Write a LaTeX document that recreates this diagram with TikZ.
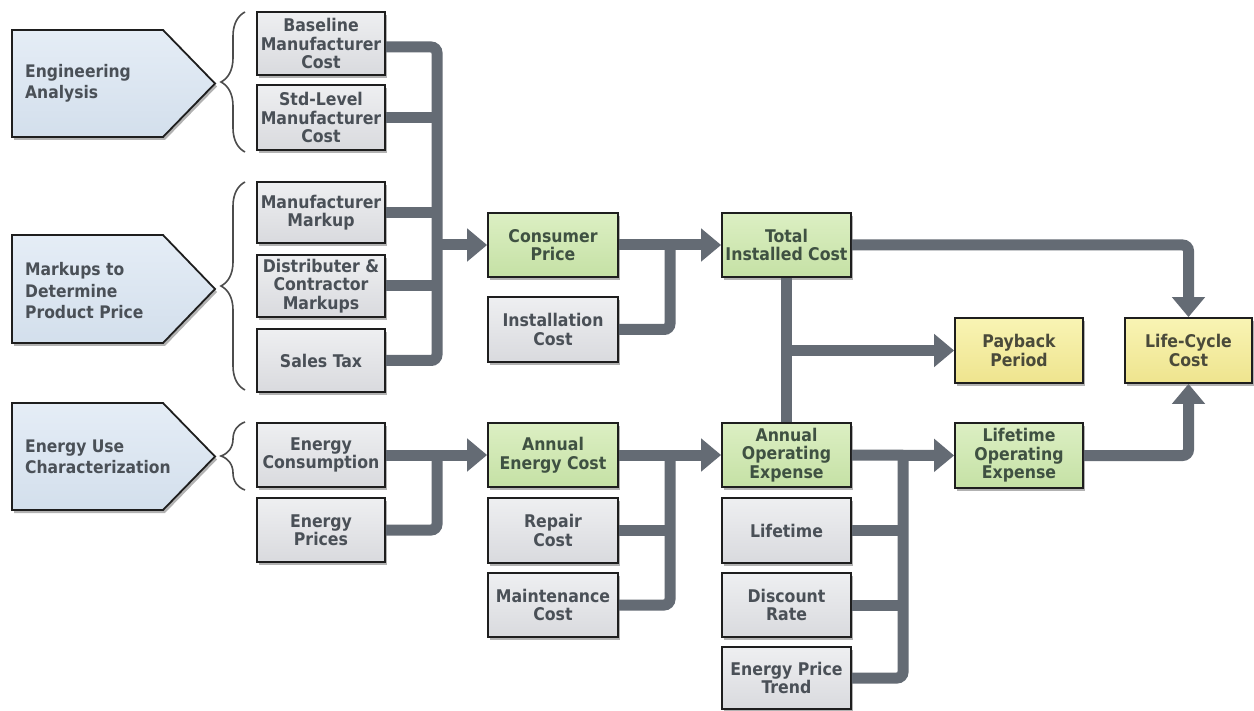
\documentclass[tikz,border=0pt]{standalone}
\usepackage{fontspec}
\setmainfont{DejaVu Sans Condensed}
\usetikzlibrary{arrows.meta,shadows,decorations.pathreplacing}
\definecolor{conncol}{HTML}{646B74}
\definecolor{greytop}{HTML}{EEEFF1}
\definecolor{greybot}{HTML}{D9DADE}
\definecolor{greentop}{HTML}{DCEFC3}
\definecolor{greenbot}{HTML}{C5E1A5}
\definecolor{yellowtop}{HTML}{F9F4B4}
\definecolor{yellowbot}{HTML}{EEE48E}
\definecolor{bluetop}{HTML}{E5EDF6}
\definecolor{bluebot}{HTML}{D3DFEC}
\definecolor{txtgrey}{HTML}{4A5057}
\definecolor{txtgreen}{HTML}{3F5142}
\definecolor{txtyellow}{HTML}{4A4A3A}
\definecolor{bordercol}{HTML}{1E1E1E}
\tikzset{
  box/.style={draw=bordercol, line width=1.8pt, minimum height=64pt, inner sep=0pt,
    align=center, font=\bfseries\fontsize{17.5}{18.5}\selectfont,
    drop shadow={shadow xshift=2pt, shadow yshift=-3pt, opacity=0.3, fill=black}},
  gbox/.style={box, top color=greytop, bottom color=greybot, text=txtgrey},
  grbox/.style={box, top color=greentop, bottom color=greenbot, text=txtgreen},
  ybox/.style={box, top color=yellowtop, bottom color=yellowbot, text=txtyellow},
  penta/.style={draw=bordercol, line width=1.8pt, top color=bluetop, bottom color=bluebot,
    drop shadow={shadow xshift=2pt, shadow yshift=-3pt, opacity=0.3, fill=black}},
  ptext/.style={anchor=west, align=left, text=txtgrey, inner sep=0pt,
    font=\bfseries\fontsize{17.3}{21.5}\selectfont},
  conn/.style={draw=conncol, line width=11pt, rounded corners=6pt},
  arr/.style={conn, -{Triangle[length=20pt,width=32pt]}},
  bracestyle/.style={draw=black!70, line width=1.6pt, decorate,
    decoration={brace, amplitude=24pt, aspect=0.5}}
}
\begin{document}
\begin{tikzpicture}[x=1pt,y=-1pt]
\useasboundingbox (0,0) rectangle (1254,711);
\fill[white] (0,0) rectangle (1254,711);

% pentagons
\draw[penta] (12,30) -- (163,30) -- (215,83.5) -- (163,137) -- (12,137) -- cycle;
\node[ptext] (ea) at (25,83.5) {Engineering\\Analysis};
\draw[penta] (12,235) -- (163,235) -- (215,289) -- (163,343) -- (12,343) -- cycle;
\node[ptext] (mk) at (25,291) {Markups to\\Determine\\Product Price};
\draw[penta] (12,403) -- (163,403) -- (215,456.5) -- (163,510) -- (12,510) -- cycle;
\node[ptext] (eu) at (25,457) {Energy Use\\Characterization};

% braces
\draw[bracestyle] (245,152) -- (245,12);
\draw[bracestyle] (245,390) -- (245,182);
\draw[bracestyle] (245,490) -- (245,422);

% column 1
\node[gbox, minimum width=128pt, minimum height=63pt] (b1) at (321,43.5) {Baseline\\Manufacturer\\Cost};
\node[gbox, minimum width=128pt, minimum height=65pt] (b2) at (321,117.5) {Std-Level\\Manufacturer\\Cost};
\node[gbox, minimum width=128pt, minimum height=61pt] (b3) at (321,212.5) {Manufacturer\\Markup};
\node[gbox, minimum width=128pt, minimum height=62pt] (b4) at (321,286) {Distributer \&\\Contractor\\Markups};
\node[gbox, minimum width=128pt, minimum height=63pt] (b5) at (321,360.5) {Sales Tax};
\node[gbox, minimum width=128pt] (b6) at (321,455) {Energy\\Consumption};
\node[gbox, minimum width=128pt] (b7) at (321,530) {Energy\\Prices};

% column 2
\node[grbox, minimum width=130pt] (cp) at (553,245) {Consumer\\Price};
\node[gbox, minimum width=130pt, minimum height=65pt] (ic) at (553,329.5) {Installation\\Cost};
\node[grbox, minimum width=130pt] (aec) at (553,455) {Annual\\Energy Cost};
\node[gbox, minimum width=130pt, minimum height=65pt] (rc) at (553,530.5) {Repair\\Cost};
\node[gbox, minimum width=130pt] (mc) at (553,605) {Maintenance\\Cost};

% column 3
\node[grbox, minimum width=129pt] (tic) at (786.5,245) {Total\\Installed Cost};
\node[grbox, minimum width=129pt] (aoe) at (786.5,455) {Annual\\Operating\\Expense};
\node[gbox, minimum width=129pt, minimum height=65pt] (lt) at (786.5,530.5) {Lifetime};
\node[gbox, minimum width=129pt] (dr) at (786.5,605) {Discount\\Rate};
\node[gbox, minimum width=129pt, minimum height=62pt] (ept) at (786.5,678) {Energy Price\\Trend};

% column 4, 5
\node[ybox, minimum width=128pt, minimum height=65pt] (pb) at (1019,350.5) {Payback\\Period};
\node[grbox, minimum width=128pt, minimum height=65pt] (loe) at (1019,455.5) {Lifetime\\Operating\\Expense};
\node[ybox, minimum width=127pt, minimum height=65pt] (lcc) at (1188.5,350.5) {Life-Cycle\\Cost};

% trunk coordinates
\coordinate (t1top) at (437,47);
\coordinate (t1bot) at (437,360.5);
\coordinate (t2bot) at (670,329.5);
\coordinate (t3top) at (437,455);
\coordinate (t4bot) at (670,605);
\coordinate (t5bot) at (903,678);

% group 1
\draw[conn] (b1.east |- t1top) -- (t1top) -- (t1bot) -- (b5.east);
\draw[conn] (b2.east) -- (b2.east -| t1top);
\draw[conn] (b3.east) -- (b3.east -| t1top);
\draw[conn] (b4.east) -- (b4.east -| t1top);
\draw[arr] (cp.west -| t1top) -- (cp.west);

% installed cost
\draw[conn] (ic.east) -- (t2bot) -- (t2bot |- cp.east);
\draw[arr] (cp.east) -- (tic.west);
\draw[arr] (tic.east) -| (lcc.north);
\draw[conn] (tic.south) -- (aoe.north);
\draw[arr] (tic.south |- pb.west) -- (pb.west);

% energy
\draw[conn] (b7.east) -| (t3top);
\draw[arr] (b6.east) -- (aec.west);
\draw[conn] (mc.east) -- (t4bot) -- (t4bot |- aec.east);
\draw[conn] (rc.east) -- (rc.east -| t4bot);
\draw[arr] (aec.east) -- (aoe.west);

% lifetime
\draw[conn] (ept.east) -- (t5bot) -- (t5bot |- aoe.east);
\draw[conn] (lt.east) -- (lt.east -| t5bot);
\draw[conn] (dr.east) -- (dr.east -| t5bot);
\draw[arr] (aoe.east) -- (loe.west);
\draw[arr] (loe.east) -| (lcc.south);
\end{tikzpicture}
\end{document}
